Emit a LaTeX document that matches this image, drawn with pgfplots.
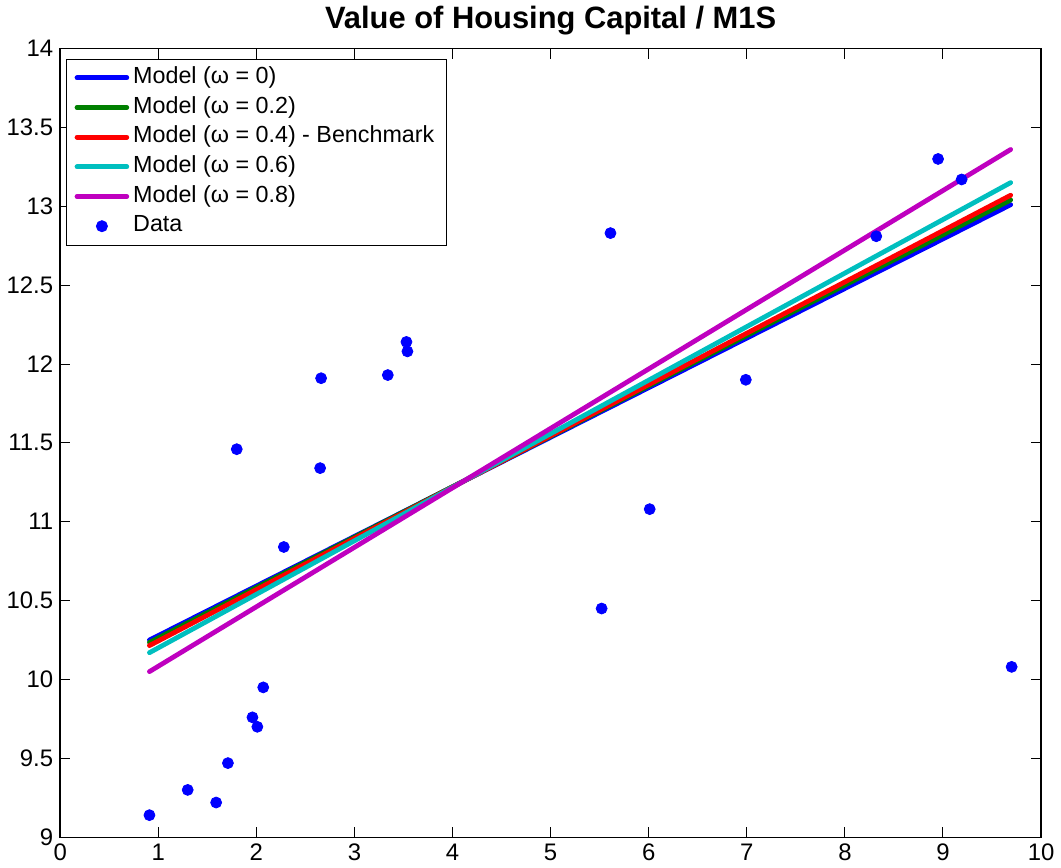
\documentclass[border=0pt]{standalone}
\usepackage{fontspec}
\setmainfont{Liberation Sans}
\usepackage{pgfplots}
\pgfplotsset{compat=1.18}
\definecolor{mblue}{rgb}{0,0,1}
\definecolor{mgreen}{rgb}{0,0.5,0}
\definecolor{mred}{rgb}{1,0,0}
\definecolor{mcyan}{rgb}{0,0.75,0.75}
\definecolor{mmag}{rgb}{0.75,0,0.75}
\pgfplotsset{
  legend image code/.code={\draw[mark repeat=2,mark phase=2,#1] plot coordinates {(0pt,0pt) (12.5pt,0pt) (25pt,0pt)};},
  modelline/.style={line width=2.4pt, line cap=round, no marks},
}
\begin{document}
\begin{tikzpicture}
\begin{axis}[
  scale only axis, width=492.5pt, height=396pt,
  xmin=0, xmax=10, ymin=9, ymax=14,
  xtick={0,1,...,10}, ytick={9,9.5,...,14},
  tick align=inside, major tick length=5pt,
  axis line style={line width=0.7pt},
  tick style={black, line width=0.5pt},
  ticklabel style={font=\fontsize{12}{14}\selectfont},
  /pgf/number format/assume math mode=true,
  title={Value of Housing Capital / M1S},
  title style={font=\fontsize{15.5}{18}\selectfont\bfseries, yshift=-3pt},
  legend cell align=left,
  legend style={at={(0,1)}, anchor=north west, xshift=3pt, yshift=-5pt,
    draw=black, line width=0.5pt, font=\fontsize{11.7}{14}\selectfont,
    row sep=0pt, inner xsep=4pt, inner ysep=2pt,
    nodes={inner sep=2pt, text height=8.3pt, text depth=2.6pt}},
]
\addplot[modelline, color=mblue] coordinates {(0.91,10.25) (9.69,13.01)};
\addlegendentry{Model (ω = 0)}
\addplot[modelline, color=mgreen] coordinates {(0.91,10.235) (9.69,13.04)};
\addlegendentry{Model (ω = 0.2)}
\addplot[modelline, color=mred] coordinates {(0.91,10.215) (9.69,13.07)};
\addlegendentry{Model (ω = 0.4) - Benchmark}
\addplot[modelline, color=mcyan] coordinates {(0.91,10.17) (9.69,13.15)};
\addlegendentry{Model (ω = 0.6)}
\addplot[modelline, color=mmag] coordinates {(0.91,10.05) (9.69,13.36)};
\addlegendentry{Model (ω = 0.8)}
\addplot[only marks, mark=*, mark size=2.75pt, color=mblue, mark options={fill=mblue, draw=mblue}] coordinates {
(0.91,9.14) (1.30,9.30) (1.59,9.22) (1.71,9.47) (1.80,11.46) (1.96,9.76)
(2.01,9.70) (2.07,9.95) (2.28,10.84) (2.65,11.34) (2.66,11.91) (3.34,11.93)
(3.53,12.14) (3.54,12.08) (5.52,10.45) (5.61,12.83) (6.01,11.08) (6.99,11.90)
(8.32,12.81) (8.95,13.30) (9.19,13.17) (9.70,10.08)
};
\addlegendentry{Data}
\end{axis}
\end{tikzpicture}
\end{document}
